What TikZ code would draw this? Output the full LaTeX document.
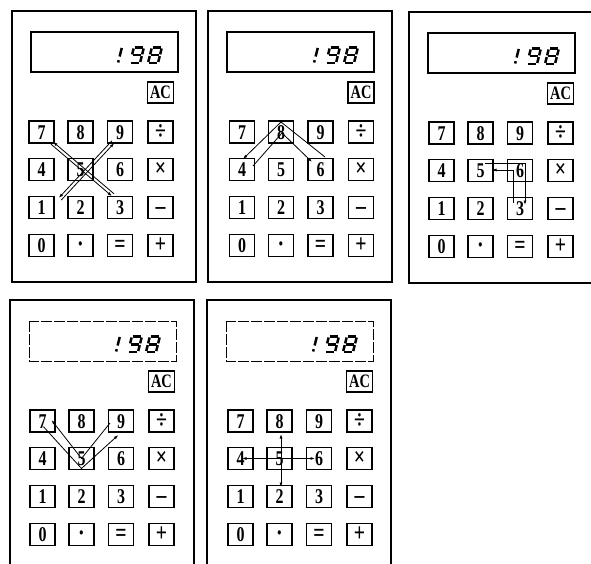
\documentclass[tikz,border=0pt]{standalone}
\usepackage{fontspec}
\newfontfamily\keyfont{Liberation Serif}[FakeStretch=0.76]
\usetikzlibrary{arrows.meta}

\begin{document}
\begin{tikzpicture}[x=1pt,y=-1pt,
    calc frame/.style={draw,line width=1.2pt},
    display box/.style={draw,line width=1.1pt},
    display broken/.style={draw,line width=1pt,dash pattern=on 11pt off 2pt},
    key cap/.style={draw,line width=1.4pt,minimum width=25pt,minimum height=22pt,
        inner sep=0pt,text height=14.2pt,text depth=0pt,
        font=\keyfont\bfseries\fontsize{21}{21}\selectfont},
    op key/.style={key cap,font=\keyfont\bfseries\fontsize{26}{26}\selectfont},
    ac key/.style={key cap,minimum width=26pt,minimum height=21pt,text height=12.7pt,
        font=\keyfont\bfseries\fontsize{19}{19}\selectfont},
    lcd segment/.style={line width=2.5pt},
    route line/.style={line width=0.8pt,-{Latex[length=4.5pt,width=3pt]}},
    both route/.style={line width=0.8pt,{Latex[length=4.5pt,width=3pt]}-{Latex[length=4.5pt,width=3pt]}}
]
    \useasboundingbox (0,0) rectangle (591,564);

    \foreach \c/\x/\y/\kx/\disp in {1/12/11/-3/display box, 2/208/11/1.5/display box,
        3/409/12/0/display box, 4/10/300/0/display broken, 5/207/300/1/display broken} {
        \draw[calc frame] (\x,\y) rectangle ++(184,271);
        \draw[\disp] (\x+19,\y+21) rectangle ++(147,40);
        \node[ac key] (k\c-ac) at (\x+\kx+151.5,\y+81.5) {AC};
        \foreach \n/\col/\row in {7/32.5/121, 8/71.5/121, 9/111/121,
            4/32.5/158.5, 5/71.5/158.5, 6/111/158.5,
            1/32.5/196.5, 2/71.5/196.5, 3/111/196.5, 0/32.5/234.5} {
            \node[key cap] (k\c-\n) at (\x+\kx+\col,\y+\row) {\n};
        }
        \foreach \n/\lab/\col/\row in {div/÷/151.5/121, mul/×/151.5/158.5,
            sub/–/151.5/196.5, dot/·/71.5/234.5, eq/=/111/234.5, add/+/151.5/234.5} {
            \node[op key] (k\c-\n) at (\x+\kx+\col,\y+\row) {\lab};
        }
        % reading 198
        \begin{scope}[shift={(\x+100,\y+52)},xslant=0.25]
            \foreach \ux/\uy/\vx/\vy in {6/-15/6/-6.5, 6/-2.8/6/-0.5,
                19/-15.5/27/-15.5, 28/-14.5/28/-8.6, 28/-6.9/28/-1, 19/0/27/0,
                18/-8.6/18/-14.5, 19/-7.75/27/-7.75,
                37/-15.5/45/-15.5, 46/-14.5/46/-8.6, 46/-6.9/46/-1, 37/0/45/0,
                36/-1/36/-6.9, 36/-8.6/36/-14.5, 37/-7.75/45/-7.75}
                \draw[lcd segment] (\ux,\uy) -- (\vx,\vy);
        \end{scope}
    }

    % 7-5-3 and 9-5-1
    \draw[route line] ([shift={(-6,-13.7)}]k1-3.center) -- ([shift={(11.5,9.8)}]k1-7.center);
    \draw[route line] ([shift={(9.5,12.2)}]k1-7.center) -- ([shift={(-8,-11.3)}]k1-3.center);
    \draw[route line] ([shift={(19.7,-7.4)}]k1-1.center) -- ([shift={(-5.8,11.1)}]k1-9.center);
    \draw[route line] ([shift={(-8.2,8.9)}]k1-9.center) -- ([shift={(17.3,-9.6)}]k1-1.center);

    % 4-8-6
    \draw[route line] ([shift={(4.5,-12.5)}]k2-6.center) -- ([shift={(0,-10)}]k2-8.center)
        -- ([shift={(1,-10.5)}]k2-4.center);
    \draw[route line] ([shift={(11,-3.5)}]k2-4.center) -- ([shift={(1,1)}]k2-8.center)
        -- ([shift={(-8.5,-7.5)}]k2-6.center);

    % 5-6-3
    \draw[route line] ([shift={(4.5,-7.5)}]k3-5.center) -- ([shift={(5,-7.5)}]k3-6.center)
        -- ([shift={(5,-3.5)}]k3-3.center);
    \draw[route line] ([shift={(-7,-5.5)}]k3-3.center) -- ([shift={(-7,-0.5)}]k3-6.center)
        -- ([shift={(11.5,-0.5)}]k3-5.center);

    % 7-5-9
    \draw[route line] ([shift={(-11,2)}]k4-9.center) -- (k4-5.center)
        -- ([shift={(9,-1)}]k4-7.center);
    \draw[route line] ([shift={(1,5.7)}]k4-7.center) -- ([shift={(0,10)}]k4-5.center)
        -- ([shift={(-2.7,14)}]k4-9.center);

    % 4-5-6 and 8-5-2
    \draw[both route] ([shift={(1.5,0)}]k5-4.center) -- ([shift={(-4,0)}]k5-6.center);
    \draw[both route] ([shift={(1.5,13)}]k5-8.center) -- ([shift={(1.5,-9.5)}]k5-2.center);

\end{tikzpicture}
\end{document}
